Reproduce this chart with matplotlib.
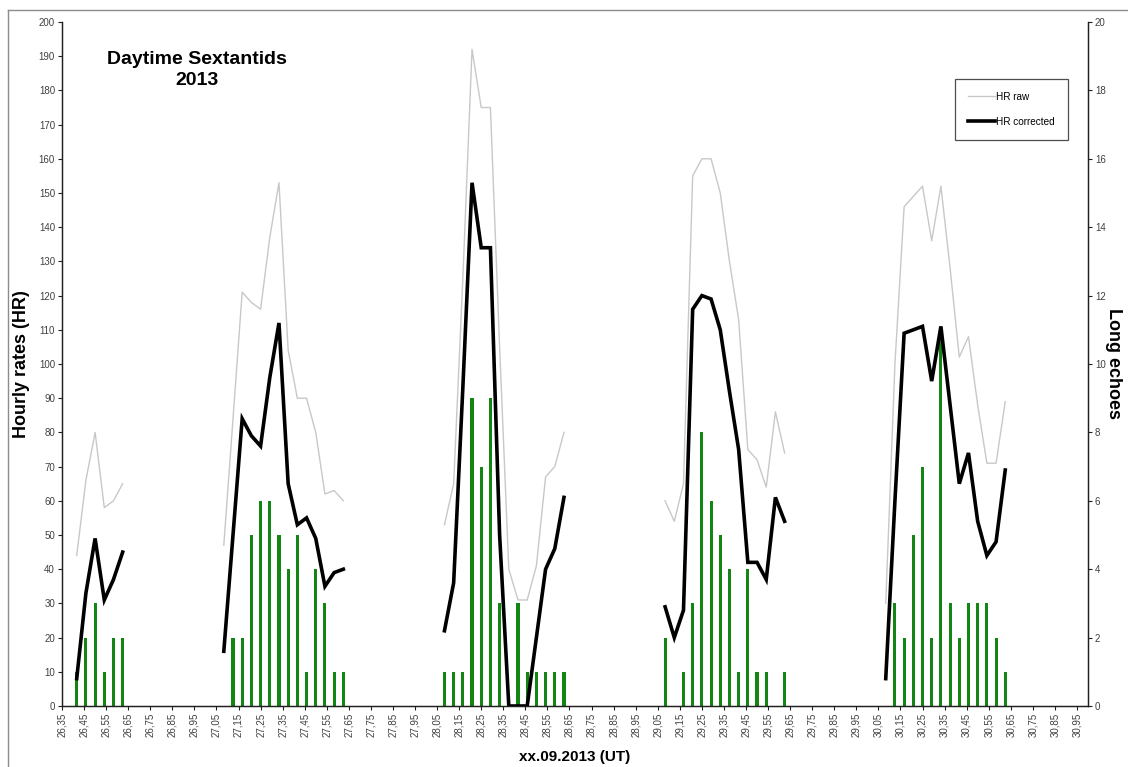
import numpy as np
import matplotlib
matplotlib.use("Agg")
import matplotlib.pyplot as plt
from matplotlib.lines import Line2D

plt.rcParams['font.family'] = ['Liberation Sans', 'DejaVu Sans']

# Observation days (September 2013) and the first UT hour recorded on each day
days = [26, 27, 28, 29, 30]
first_hour = [10, 2, 2, 2, 2]

# Hourly rates, raw
hr_raw_26 = [44, 66, 80, 58, 60, 65]
hr_raw_27 = [47, 84, 121, 118, 116, 137, 153, 104, 90, 90, 80, 62, 63, 60]
hr_raw_28 = [53, 65, 125, 192, 175, 175, 105, 40, 31, 31, 41, 67, 70, 80]
hr_raw_29 = [60, 54, 65, 155, 160, 160, 150, 130, 113, 75, 72, 64, 86, 74]
hr_raw_30 = [30, 100, 146, 149, 152, 136, 152, 128, 102, 108, 88, 71, 71, 89]

# Hourly rates, corrected
hr_cor_26 = [8, 33, 49, 31, 37, 45]
hr_cor_27 = [16, 50, 84, 79, 76, 96, 112, 65, 53, 55, 49, 35, 39, 40]
hr_cor_28 = [22, 36, 93, 153, 134, 134, 50, 0, 0, 0, 20, 40, 46, 61]
hr_cor_29 = [29, 20, 28, 116, 120, 119, 110, 92, 75, 42, 42, 37, 61, 54]
hr_cor_30 = [8, 60, 109, 110, 111, 95, 111, 88, 65, 74, 54, 44, 48, 69]

# Long echoes per hour
echoes_26 = [1, 2, 3, 1, 2, 2]
echoes_27 = [0, 2, 2, 5, 6, 6, 5, 4, 5, 1, 4, 3, 1, 1]
echoes_28 = [1, 1, 1, 9, 7, 9, 3, 0, 3, 1, 1, 1, 1, 1]
echoes_29 = [2, 0, 1, 3, 8, 6, 5, 4, 1, 4, 1, 1, 0, 1]
echoes_30 = [0, 3, 2, 5, 7, 2, 11, 3, 2, 3, 3, 3, 2, 1]

raw_by_day = [hr_raw_26, hr_raw_27, hr_raw_28, hr_raw_29, hr_raw_30]
cor_by_day = [hr_cor_26, hr_cor_27, hr_cor_28, hr_cor_29, hr_cor_30]
echo_by_day = [echoes_26, echoes_27, echoes_28, echoes_29, echoes_30]

# Day-fraction positions; NaN breaks the lines between observing sessions
x_line, raw_line, cor_line = [], [], []
x_bar, echo_bar = [], []
for d, h0, raw, cor, ech in zip(days, first_hour, raw_by_day, cor_by_day, echo_by_day):
    xs = d + (h0 + np.arange(len(raw))) / 24.0
    x_line += list(xs) + [np.nan]
    raw_line += list(raw) + [np.nan]
    cor_line += list(cor) + [np.nan]
    x_bar += list(xs)
    echo_bar += list(ech)

x_ticks = np.round(np.arange(26.35, 30.96, 0.1), 2)
x_ticklabels = [f"{t:.2f}".replace('.', ',') for t in x_ticks]

W, H = 1128, 767
fig = plt.figure(figsize=(W / 100, H / 100), dpi=100)
ax1 = fig.add_axes([62 / W, 1 - 706 / H, (1088 - 62) / W, (706 - 22) / H])
ax2 = ax1.twinx()
ax1.set_zorder(ax2.get_zorder() + 1)
ax1.patch.set_visible(False)

# Long echoes as thin columns on the secondary axis
ax2.bar(x_bar, echo_bar, width=0.014, color='#138513', linewidth=0)

ax1.plot(x_line, raw_line, color='#c8c8c8', lw=1.0, label='HR raw')
ax1.plot(x_line, cor_line, color='black', lw=2.6, label='HR corrected',
         solid_joinstyle='miter')

ax1.set_xlim(26.35, 31.0)
ax1.set_ylim(0, 200)
ax2.set_ylim(0, 20)
ax1.set_yticks(np.arange(0, 201, 10))
ax2.set_yticks(np.arange(0, 21, 2))
ax1.set_xticks(x_ticks)
ax1.set_xticklabels(x_ticklabels, rotation=90)

tick_color = '#404040'
for ax in (ax1, ax2):
    ax.spines['top'].set_visible(False)
    for s in ('left', 'right', 'bottom'):
        ax.spines[s].set_color('#202020')
        ax.spines[s].set_linewidth(0.9)
    ax.tick_params(axis='both', direction='out', length=3, width=0.8,
                   colors='#202020', labelcolor=tick_color, labelsize=7, pad=2)

ax1.set_ylabel('Hourly rates (HR)', fontsize=13, fontweight='bold', labelpad=6)
ax1.set_xlabel('xx.09.2013 (UT)', fontsize=11, fontweight='bold', labelpad=9)
ax2.set_ylabel('Long echoes', fontsize=13, fontweight='bold', rotation=-90,
               labelpad=12)

ax1.text(0.132, 0.93, 'Daytime Sextantids\n2013', transform=ax1.transAxes,
         ha='center', va='center', fontsize=14, fontweight='bold',
         linespacing=1.35)

leg = ax1.legend(loc='upper right', bbox_to_anchor=(0.9805, 0.9167),
                 fontsize=7.2, frameon=True, fancybox=False, edgecolor='#202020',
                 borderpad=1.3, labelspacing=1.5, handlelength=2.7,
                 handletextpad=0.1, borderaxespad=0)
leg.get_frame().set_linewidth(0.9)

# Chart area border
fig.add_artist(Line2D([8 / W, 1.0], [1 - 10 / H, 1 - 10 / H], color='#8c8c8c',
                      lw=1.0, transform=fig.transFigure))
fig.add_artist(Line2D([8 / W, 8 / W], [0.0, 1 - 10 / H], color='#8c8c8c',
                      lw=1.0, transform=fig.transFigure))

fig.savefig('out.png', dpi=100)
